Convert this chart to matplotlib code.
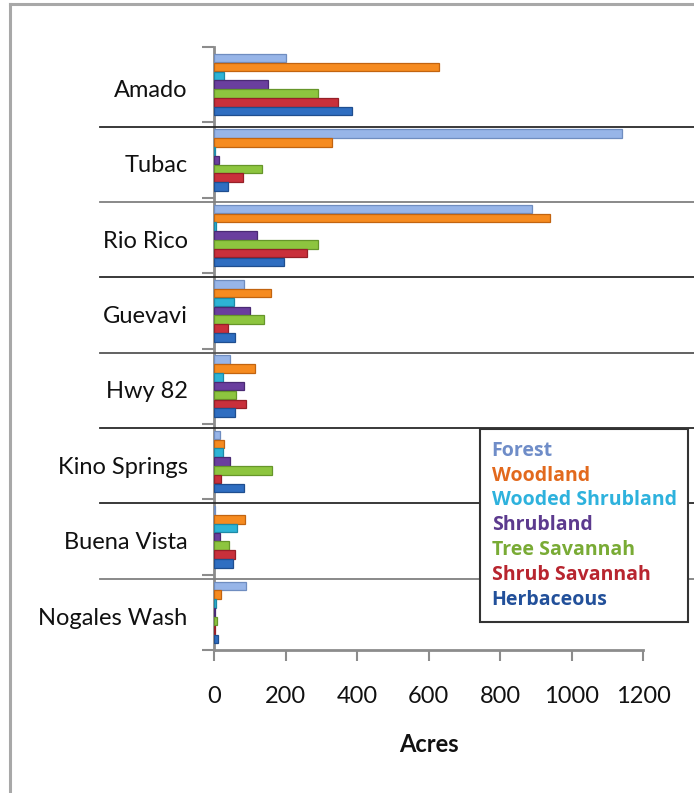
import matplotlib
matplotlib.use("Agg")
import matplotlib.pyplot as plt
import numpy as np
from matplotlib.lines import Line2D
from matplotlib.transforms import blended_transform_factory
from matplotlib.patches import Patch

categories = ["Amado", "Tubac", "Rio Rico", "Guevavi", "Hwy 82",
              "Kino Springs", "Buena Vista", "Nogales Wash"]
series = ["Forest", "Woodland", "Wooded Shrubland", "Shrubland",
          "Tree Savannah", "Shrub Savannah", "Herbaceous"]

forest        = [200, 1140, 890, 85, 45, 18, 3, 90]
woodland      = [630, 330, 940, 160, 115, 28, 88, 20]
wooded_shrub  = [28, 3, 5, 55, 25, 25, 65, 5]
shrubland     = [150, 15, 120, 100, 85, 45, 18, 3]
tree_savannah = [292, 135, 290, 140, 62, 162, 42, 8]
shrub_savannah = [348, 80, 260, 40, 90, 20, 58, 3]
herbaceous    = [385, 40, 195, 60, 58, 85, 52, 12]

values = [forest, woodland, wooded_shrub, shrubland,
          tree_savannah, shrub_savannah, herbaceous]

xticks = [0, 200, 400, 600, 800, 1000, 1200]
xlabel = "Acres"

bar_colors = ["#97B5E8", "#F68B20", "#2DB4D6", "#6A3E9E",
              "#8DC53F", "#C9303B", "#2F6EC1"]
edge_colors = ["#6F8DC0", "#C26410", "#1E8AA6", "#4A2A74",
               "#66962A", "#962028", "#1F4E8F"]
legend_colors = ["#6F8DC8", "#E2691D", "#2EB2DD", "#5C3A8E",
                 "#79AB35", "#B8252F", "#22509A"]

plt.rcParams['font.family'] = ['Lato', 'DejaVu Sans']

W, H = 694, 793
fig = plt.figure(figsize=(W / 100, H / 100), dpi=100)
ax_left, ax_right = 214 / W, 643 / W
ax_top, ax_bottom = 1 - 47 / H, 1 - 650 / H
ax = fig.add_axes([ax_left, ax_bottom, ax_right - ax_left, ax_top - ax_bottom])

n = len(series)
slot = 0.117
barh = 0.113
y = np.arange(len(categories))
for i, (vals, c, ec) in enumerate(zip(values, bar_colors, edge_colors)):
    offs = (i - (n - 1) / 2) * slot
    ax.barh(y + offs, vals, height=barh, color=c, edgecolor=ec,
            linewidth=0.9, left=0, zorder=3)

ax.set_xlim(0, 1200)
ax.set_ylim(len(categories) - 0.5, -0.5)

ax.set_xticks(xticks)
ax.set_xticklabels([str(t) for t in xticks], fontsize=17, color="#111111")
ax.tick_params(axis="x", length=8, width=1.5, color="#8C8C8C", pad=18)

# category boundaries as major ticks, labels as minor ticks
ax.set_yticks(np.arange(len(categories) + 1) - 0.5)
ax.set_yticklabels([])
ax.tick_params(axis="y", which="major", length=9, width=1.5, color="#8C8C8C")
ax.set_yticks(y + 0.05, minor=True)
ax.set_yticklabels(categories, minor=True, fontsize=17, color="#111111")
ax.tick_params(axis="y", which="minor", length=0, pad=19)

for s in ["top", "right"]:
    ax.spines[s].set_visible(False)
for s in ["left", "bottom"]:
    ax.spines[s].set_color("#8C8C8C")
    ax.spines[s].set_linewidth(2)

ax.set_xlabel(xlabel, fontsize=17, fontweight="bold", labelpad=19, color="#111111")

# separator lines between categories
trans = blended_transform_factory(fig.transFigure, ax.transData)
sep_colors = ["#2A2A2A", "#808080", "#2A2A2A", "#555555",
              "#2A2A2A", "#2A2A2A", "#808080"]
for k in range(1, len(categories)):
    yy = k - 0.5 + 0.055
    fig.add_artist(Line2D([100 / W, 1.0], [yy, yy], transform=trans,
                          color=sep_colors[k - 1], lw=1.3, zorder=2))

# outer chart frame
fig.add_artist(Line2D([10 / W, 10 / W], [0, 1 - 4 / H], transform=fig.transFigure,
                      color="#A8A8A8", lw=2.2))
fig.add_artist(Line2D([10 / W, 1.0], [1 - 4 / H, 1 - 4 / H], transform=fig.transFigure,
                      color="#A8A8A8", lw=2.2))

handles = [Patch(facecolor="none", edgecolor="none") for _ in series]
leg = fig.legend(handles, series, loc="upper left",
                 bbox_to_anchor=(480 / W, 1 - 429 / H),
                 bbox_transform=fig.transFigure,
                 handlelength=0, handletextpad=0, borderpad=0.6,
                 labelspacing=0.25, fancybox=False, framealpha=1,
                 prop={"weight": "bold", "size": 14, "family": ["Open Sans", "DejaVu Sans"]},
                 borderaxespad=0)
leg.get_frame().set_edgecolor("#333333")
leg.get_frame().set_linewidth(1.5)
leg.set_zorder(10)
for t, c in zip(leg.get_texts(), legend_colors):
    t.set_color(c)

fig.savefig("out.png", dpi=100)
